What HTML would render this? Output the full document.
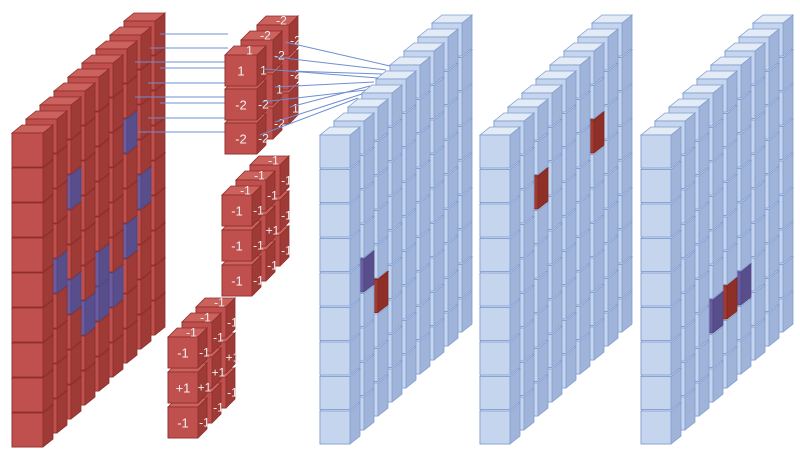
<!DOCTYPE html>
<html><head><meta charset="utf-8"><style>
html,body{margin:0;padding:0;background:#fff;}
svg{display:block;}
text{font-family:"Liberation Sans",sans-serif;fill:#f4f0f0;}
</style></head><body>
<svg id="cnn" width="800" height="461" viewBox="0 0 800 461" xmlns="http://www.w3.org/2000/svg"></svg>
<script>
// kernel values: front faces, top faces, right faces per depth column
const k1Front=['1','-2','-2'], k1Top=['1','-2','-2'], k1Side=[['1','-2','-2'],['-2','1','-2'],['-2','-2','1']];
const k2Front=['-1','-1','-1'], k2Top=['-1','-1','-1'], k2Side=[['-1','-1','-1'],['-1','+1','-1'],['-1','-1','-1']];
const k3Front=['-1','+1','-1'], k3Top=['-1','-1','-1'], k3Side=[['-1','+1','-1'],['-1','+1','-1'],['-1','+1','-1']];
// highlighted cells [depth,row]
const redPurple=[[2,2],[6,2],[7,4],[6,5],[1,4],[2,5],[3,6],[4,6],[5,6],[4,5]];
const b1Purple=[[1,4]], b1Red=[[2,5]];
const b2Red=[[2,2],[6,2]];
const b3Purple=[[3,6],[5,6]], b3Red=[[4,6]];

const NS='http://www.w3.org/2000/svg';
const svg=document.getElementById('cnn');
function mk(tag,attrs,parent){const e=document.createElementNS(NS,tag);for(const k in attrs)e.setAttribute(k,attrs[k]);(parent||svg).appendChild(e);return e;}
const RED={f:'#c0504d',t:'#cc625e',s:'#9e3b37',st:'#8c2d2a'};
const BLUE={f:'#c6d5ee',t:'#e3ebf7',s:'#a0b4da',st:'#7f9cd0'};
const PUR={f:'#6a5c9e',t:'#8a80bb',s:'#594e8c',st:'#4f4580'};
const DRED={f:'#a33a30',t:'#b84a40',s:'#8e3028',st:'#7a2620'};
function cube(g,x,y,w,h,ox,oy,c,name){
  const cg=mk('g',{},g);
  
  
  mk('polygon',{points:`${x},${y} ${x+w},${y} ${x+w+ox},${y+oy} ${x+w+ox},${y+h+oy} ${x+w},${y+h} ${x},${y+h}`,fill:c.s,stroke:c.st,'stroke-width':0.8},cg);
  mk('polygon',{points:`${x},${y} ${x+ox},${y+oy} ${x+w+ox},${y+oy} ${x+w},${y}`,fill:c.t,stroke:c.st,'stroke-width':0.8},cg);
  mk('rect',{x:x,y:y,width:w,height:h,fill:c.f,stroke:c.st,'stroke-width':0.8},cg);
}
function has(list,d,r){return list.some(p=>p[0]===d&&p[1]===r);}
function layer(name,x0,y0,w,h,rowStep,dx,dy,ox,oy,rows,cols,base,hl){
  const g=mk('g',{});
  
  
  for(let d=cols-1;d>=0;d--){
    for(let r=rows-1;r>=0;r--){
      let c=base;
      for(const [list,col] of hl) if(has(list,d,r)) c=col;
      cube(g,x0+d*dx,y0+r*rowStep+d*dy,w,h,ox,oy,c,name+'-cell');
    }
  }
  return g;
}
function kernel(name,x0,y0,w,h,rowStep,dx,dy,ox,oy,front,top,side){
  const g=mk('g',{});
  
  
  for(let d=2;d>=0;d--){
    for(let r=2;r>=0;r--){
      const x=x0+d*dx,y=y0+r*rowStep+d*dy;
      cube(g,x,y,w,h,ox,oy,RED,name+'-cell');
      const t=mk('text',{x:x+w+ox/2+2,y:y+h/2+4,'font-size':12,'text-anchor':'middle'},g);
      t.textContent=side[d][r];
      if(r===0){const tt=mk('text',{x:x+w/2+ox/2+4,y:y+oy/2+4,'font-size':12,'text-anchor':'middle'},g);tt.textContent=top[d];}
      if(d===0){const ft=mk('text',{x:x+w/2,y:y+h/2+5,'font-size':13,'text-anchor':'middle'},g);ft.textContent=front[r];}
    }
  }
}
// red input layer
layer('input-volume',12,133,31,34,35,14,-14,10,-8,9,9,RED,[[redPurple,PUR]]);
// connection lines red -> kernel1
const lg=mk('g',{stroke:'#6f8fd0','stroke-width':1,fill:'none'});


[[160,34],[150,48],[135,62],[160,68],[148,83],[135,97],[160,103],[148,118],[138,132]].forEach(p=>mk('line',{x1:p[0],y1:p[1],x2:228,y2:p[1]},lg));
// blue output layers
layer('feature-map-1',320,135,30,33,34.5,14,-14,10,-8,9,9,BLUE,[[b1Purple,PUR],[b1Red,DRED]]);
layer('feature-map-2',480,135,30,33,34.5,14,-14,10,-8,9,9,BLUE,[[b2Red,DRED]]);
layer('feature-map-3',641,135,30,33,34.5,14,-14,10,-8,9,9,BLUE,[[b3Purple,PUR],[b3Red,DRED]]);
// kernels
kernel('kernel-1',225,55,32,31,34,16,-15,9,-9,k1Front,k1Top,k1Side);
kernel('kernel-2',222,195,30,31,35,14,-15,9,-9,k2Front,k2Top,k2Side);
kernel('kernel-3',168,337,30,31,35,14,-15,9,-9,k3Front,k3Top,k3Side);
// lines kernel1 -> feature map 1
const lg2=mk('g',{stroke:'#6f8fd0','stroke-width':1,fill:'none'});


[[285,42],[275,57],[288,71],[263,69],[275,87],[290,107],[262,102],[275,122],[260,135]].forEach((p,i)=>mk('line',{x1:p[0],y1:p[1],x2:390-4*i,y2:66+4*i},lg2));
</script>
</body></html>
